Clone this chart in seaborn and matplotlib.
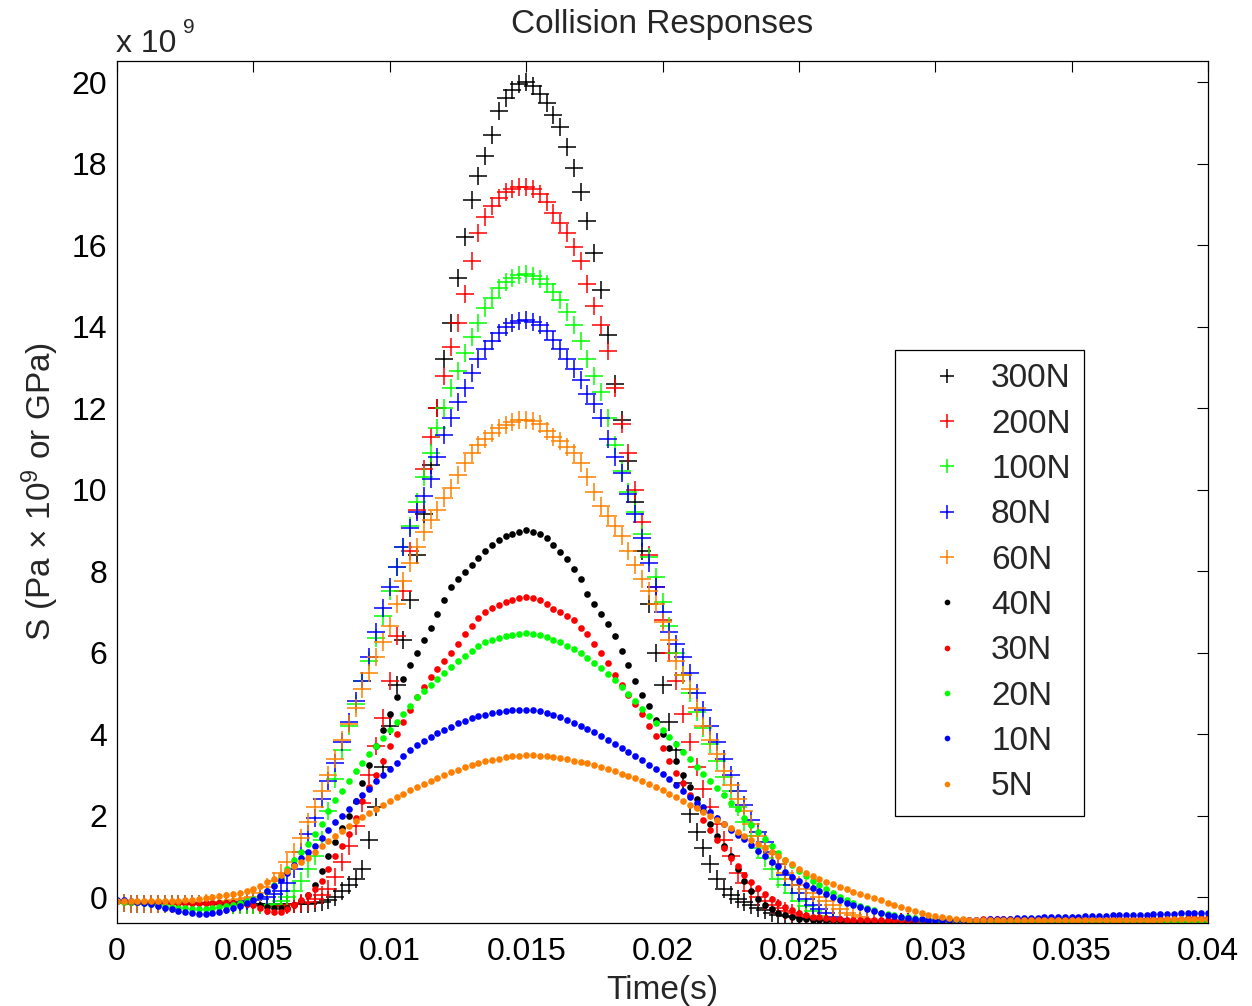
import numpy as np
import pandas as pd
import matplotlib
matplotlib.use("Agg")
import matplotlib.pyplot as plt
import seaborn as sns

# ---------------- data ----------------
time_s = [
    0.0, 0.00025, 0.0005, 0.00075, 0.001, 0.00125, 0.0015, 0.00175, 0.002, 0.00225,
    0.0025, 0.00275, 0.003, 0.00325, 0.0035, 0.00375, 0.004, 0.00425, 0.0045, 0.00475,
    0.005,
    0.00525, 0.0055, 0.00575, 0.006, 0.00625, 0.0065, 0.00675, 0.007, 0.00725, 0.0075,
    0.00775, 0.008, 0.00825, 0.0085, 0.00875, 0.009, 0.00925, 0.0095, 0.00975, 0.01,
    0.01025, 0.0105, 0.01075, 0.011, 0.01125, 0.0115, 0.01175, 0.012, 0.01225, 0.0125,
    0.01275, 0.013, 0.01325, 0.0135, 0.01375, 0.014, 0.01425, 0.0145, 0.01475, 0.015,
    0.01525, 0.0155, 0.01575, 0.016, 0.01625, 0.0165, 0.01675, 0.017, 0.01725, 0.0175,
    0.01775, 0.018, 0.01825, 0.0185, 0.01875, 0.019, 0.01925, 0.0195, 0.01975, 0.02,
    0.02025, 0.0205, 0.02075, 0.021, 0.02125, 0.0215, 0.02175, 0.022, 0.02225, 0.0225,
    0.02275, 0.023, 0.02325, 0.0235, 0.02375, 0.024, 0.02425, 0.0245, 0.02475, 0.025,
    0.02525, 0.0255, 0.02575, 0.026, 0.02625, 0.0265, 0.02675, 0.027, 0.02725, 0.0275,
    0.02775, 0.028, 0.02825, 0.0285, 0.02875, 0.029, 0.02925, 0.0295, 0.02975, 0.03,
    0.03025, 0.0305, 0.03075, 0.031, 0.03125, 0.0315, 0.03175, 0.032, 0.03225, 0.0325,
    0.03275, 0.033, 0.03325, 0.0335, 0.03375, 0.034, 0.03425, 0.0345, 0.03475, 0.035,
    0.03525, 0.0355, 0.03575, 0.036, 0.03625, 0.0365, 0.03675, 0.037, 0.03725, 0.0375,
    0.03775, 0.038, 0.03825, 0.0385, 0.03875, 0.039, 0.03925, 0.0395, 0.03975, 0.04,
]

s_300N = [
    -0.15, -0.15, -0.16, -0.16, -0.17, -0.17, -0.17, -0.17, -0.18, -0.18,
    -0.18, -0.18, -0.18, -0.18, -0.18, -0.18, -0.18, -0.18, -0.18, -0.18,
    -0.18,
    -0.18, -0.18, -0.18, -0.18, -0.18, -0.17, -0.17, -0.16, -0.15, -0.12,
    -0.08, 0.0, 0.15, 0.3, 0.45, 0.7, 1.4, 2.2, 3.2, 4.2,
    5.2, 6.3, 7.3, 8.4, 9.4, 10.6, 12.0, 13.2, 14.1, 15.2,
    16.2, 17.1, 17.7, 18.2, 18.7, 19.3, 19.6, 19.8, 19.95, 20.0,
    19.9, 19.7, 19.5, 19.2, 18.9, 18.4, 17.9, 17.3, 16.6, 15.8,
    14.9, 13.8, 12.6, 11.7, 10.7, 9.7, 8.5, 7.2, 6.0, 5.2,
    4.3, 3.6, 2.8, 2.05, 1.6, 1.2, 0.8, 0.45, 0.2, 0.05,
    -0.05, -0.12, -0.2, -0.27, -0.33, -0.38, -0.43, -0.47, -0.5, -0.52,
    -0.53, -0.55, -0.56, -0.57, -0.58, -0.58, -0.59, -0.6, -0.6, -0.6,
    -0.6, -0.61, -0.61, -0.62, -0.62, -0.62, -0.65, -0.7, -0.8, -0.9,
    -1.0, -1.0, -1.0, -1.0, -1.0, -1.0, -1.0, -1.0, -1.0, -1.0,
    -1.0, -1.0, -1.0, -1.0, -1.0, -1.0, -1.0, -1.0, -1.0, -1.0,
    -1.0, -1.0, -1.0, -1.0, -1.0, -1.0, -1.0, -1.0, -1.0, -1.0,
    -1.0, -1.0, -1.0, -1.0, -1.0, -1.0, -1.0, -1.0, -1.0, -1.0,
]
s_200N = [
    -0.15, -0.15, -0.16, -0.16, -0.17, -0.17, -0.17, -0.17, -0.18, -0.18,
    -0.18, -0.18, -0.18, -0.18, -0.18, -0.18, -0.19, -0.19, -0.19, -0.19,
    -0.2,
    -0.2, -0.22, -0.22, -0.22, -0.2, -0.18, -0.15, -0.12, -0.05, 0.05,
    0.2, 0.5, 0.85, 1.25, 1.75, 2.3, 3.0, 3.7, 4.4, 5.3,
    6.4, 7.5, 8.5, 9.5, 10.5, 11.3, 12.0, 12.8, 13.5, 14.1,
    14.8, 15.6, 16.3, 16.7, 16.95, 17.15, 17.3, 17.38, 17.42, 17.43,
    17.38, 17.25, 17.05, 16.8, 16.55, 16.3, 15.95, 15.6, 15.05, 14.5,
    14.05, 13.4, 12.5, 11.6, 10.9, 10.0, 9.2, 8.4, 7.6, 6.8,
    6.0, 5.3, 4.5, 3.8, 3.2, 2.65, 2.2, 1.8, 1.4, 1.0,
    0.6, 0.35, 0.15, 0.0, -0.1, -0.2, -0.28, -0.35, -0.4, -0.45,
    -0.48, -0.5, -0.53, -0.55, -0.57, -0.58, -0.59, -0.6, -0.6, -0.6,
    -0.6, -0.6, -0.61, -0.62, -0.62, -0.62, -0.65, -0.7, -0.8, -0.9,
    -1.0, -1.0, -1.0, -1.0, -1.0, -1.0, -1.0, -1.0, -1.0, -1.0,
    -1.0, -1.0, -1.0, -1.0, -1.0, -1.0, -1.0, -1.0, -1.0, -1.0,
    -1.0, -1.0, -1.0, -1.0, -1.0, -1.0, -1.0, -1.0, -1.0, -1.0,
    -1.0, -1.0, -1.0, -1.0, -1.0, -1.0, -1.0, -1.0, -1.0, -1.0,
]
s_100N = [
    -0.15, -0.15, -0.16, -0.16, -0.17, -0.17, -0.17, -0.17, -0.18, -0.18,
    -0.18, -0.18, -0.18, -0.18, -0.18, -0.18, -0.18, -0.19, -0.19, -0.19,
    -0.19,
    -0.2, -0.2, -0.18, -0.1, 0.0, 0.15, 0.4, 0.7, 1.0, 1.4,
    2.1, 2.9, 3.6, 4.2, 4.75, 5.3, 5.8, 6.35, 6.9, 7.5,
    8.1, 8.6, 9.1, 9.7, 10.3, 10.9, 11.5, 12.0, 12.5, 12.9,
    13.35, 13.75, 14.1, 14.45, 14.7, 14.95, 15.1, 15.2, 15.26, 15.28,
    15.25, 15.18, 15.05, 14.85, 14.65, 14.35, 14.05, 13.65, 13.2, 12.8,
    12.4, 11.75, 11.1, 10.45, 9.95, 9.45, 8.9, 8.35, 7.85, 7.25,
    6.65, 6.0, 5.45, 5.0, 4.55, 4.15, 3.75, 3.35, 2.95, 2.6,
    2.2, 1.85, 1.5, 1.2, 0.95, 0.7, 0.45, 0.3, 0.1, -0.1,
    -0.22, -0.35, -0.46, -0.55, -0.58, -0.6, -0.61, -0.62, -0.63, -0.65,
    -0.67, -0.7, -0.75, -0.8, -0.85, -0.9, -0.95, -1.0, -1.0, -1.0,
    -1.0, -1.0, -1.0, -1.0, -1.0, -1.0, -1.0, -1.0, -1.0, -1.0,
    -1.0, -1.0, -1.0, -1.0, -1.0, -1.0, -1.0, -1.0, -1.0, -1.0,
    -1.0, -1.0, -1.0, -1.0, -1.0, -1.0, -1.0, -1.0, -1.0, -1.0,
    -1.0, -1.0, -1.0, -1.0, -1.0, -1.0, -1.0, -1.0, -1.0, -1.0,
]
s_80N = [
    -0.15, -0.15, -0.16, -0.16, -0.17, -0.17, -0.17, -0.17, -0.18, -0.18,
    -0.18, -0.18, -0.18, -0.18, -0.17, -0.16, -0.15, -0.14, -0.12, -0.1,
    -0.08,
    -0.04, 0.0, 0.07, 0.15, 0.35, 0.7, 1.1, 1.55, 1.95, 2.4,
    2.85, 3.3, 3.8, 4.3, 4.8, 5.3, 5.9, 6.5, 7.1, 7.6,
    8.1, 8.6, 9.05, 9.45, 9.85, 10.25, 10.8, 11.35, 11.75, 12.15,
    12.5, 12.85, 13.2, 13.45, 13.65, 13.85, 13.98, 14.08, 14.14, 14.16,
    14.12, 14.05, 13.9, 13.68, 13.45, 13.2, 12.95, 12.7, 12.35, 12.1,
    11.75, 11.25, 10.8, 10.4, 9.9, 9.4, 8.8, 8.2, 7.6, 7.0,
    6.5, 6.2, 5.9, 5.5, 5.0, 4.6, 4.2, 3.8, 3.4, 3.0,
    2.6, 2.25, 1.9, 1.6, 1.35, 1.1, 0.8, 0.55, 0.3, 0.1,
    -0.05, -0.2, -0.3, -0.4, -0.48, -0.55, -0.58, -0.6, -0.61, -0.62,
    -0.65, -0.7, -0.75, -0.8, -0.85, -0.9, -0.95, -1.0, -1.0, -1.0,
    -1.0, -1.0, -1.0, -1.0, -1.0, -1.0, -1.0, -1.0, -1.0, -1.0,
    -1.0, -1.0, -1.0, -1.0, -1.0, -1.0, -1.0, -1.0, -1.0, -1.0,
    -1.0, -1.0, -1.0, -1.0, -1.0, -1.0, -1.0, -1.0, -1.0, -1.0,
    -1.0, -1.0, -1.0, -1.0, -1.0, -1.0, -1.0, -1.0, -1.0, -1.0,
]
s_60N = [
    -0.15, -0.15, -0.16, -0.16, -0.17, -0.17, -0.17, -0.17, -0.17, -0.17,
    -0.17, -0.17, -0.16, -0.15, -0.14, -0.12, -0.1, -0.08, -0.05, -0.03,
    0.0,
    0.1, 0.25, 0.4, 0.6, 0.85, 1.1, 1.45, 1.85, 2.2, 2.6,
    3.0, 3.4, 3.85, 4.25, 4.65, 5.1, 5.5, 5.9, 6.25, 6.65,
    7.2, 7.75, 8.2, 8.6, 8.95, 9.25, 9.5, 9.8, 10.05, 10.35,
    10.65, 10.9, 11.1, 11.25, 11.38, 11.5, 11.58, 11.65, 11.7, 11.72,
    11.68, 11.6, 11.45, 11.3, 11.2, 11.05, 10.9, 10.65, 10.3, 9.95,
    9.6, 9.35, 9.1, 8.85, 8.5, 8.15, 7.8, 7.5, 7.2, 6.75,
    6.3, 5.8, 5.45, 5.1, 4.65, 4.2, 3.85, 3.5, 3.1, 2.75,
    2.4, 2.1, 1.8, 1.5, 1.25, 1.05, 0.8, 0.6, 0.45, 0.3,
    0.2, 0.1, 0.0, -0.1, -0.2, -0.3, -0.38, -0.45, -0.5, -0.55,
    -0.58, -0.6, -0.61, -0.62, -0.66, -0.7, -0.75, -0.8, -0.85, -0.9,
    -1.0, -1.0, -1.0, -1.0, -1.0, -1.0, -1.0, -1.0, -1.0, -1.0,
    -1.0, -1.0, -1.0, -1.0, -1.0, -1.0, -1.0, -1.0, -1.0, -1.0,
    -1.0, -1.0, -1.0, -1.0, -1.0, -1.0, -1.0, -1.0, -1.0, -1.0,
    -1.0, -1.0, -1.0, -1.0, -1.0, -1.0, -1.0, -1.0, -1.0, -1.0,
]
s_40N = [
    -0.1, -0.1, -0.11, -0.11, -0.12, -0.12, -0.13, -0.13, -0.13, -0.13,
    -0.14, -0.14, -0.14, -0.14, -0.14, -0.14, -0.15, -0.15, -0.15, -0.16,
    -0.17,
    -0.2, -0.25, -0.27, -0.28, -0.27, -0.2, -0.1, 0.05, 0.3, 0.65,
    1.0, 1.35, 1.7, 2.0, 2.35, 2.8, 3.25, 3.7, 4.1, 4.5,
    4.9, 5.35, 5.7, 6.0, 6.3, 6.6, 6.95, 7.3, 7.6, 7.8,
    7.98, 8.15, 8.33, 8.5, 8.65, 8.77, 8.86, 8.92, 8.97, 9.0,
    8.97, 8.9, 8.8, 8.65, 8.48, 8.3, 8.05, 7.8, 7.45, 7.2,
    6.95, 6.7, 6.4, 6.05, 5.7, 5.3, 4.95, 4.7, 4.35, 4.0,
    3.65, 3.35, 3.0, 2.7, 2.4, 2.1, 1.8, 1.5, 1.25, 1.0,
    0.7, 0.4, 0.15, -0.05, -0.2, -0.3, -0.38, -0.45, -0.5, -0.53,
    -0.55, -0.56, -0.57, -0.58, -0.58, -0.58, -0.58, -0.59, -0.59, -0.59,
    -0.59, -0.6, -0.6, -0.6, -0.6, -0.6, -0.6, -0.6, -0.6, -0.6,
    -0.6, -0.6, -0.61, -0.61, -0.61, -0.61, -0.61, -0.61, -0.61, -0.61,
    -0.61, -0.61, -0.61, -0.61, -0.61, -0.61, -0.62, -0.62, -0.62, -0.62,
    -0.62, -0.62, -0.62, -0.62, -0.62, -0.62, -0.62, -0.62, -0.62, -0.62,
    -0.62, -0.62, -0.62, -0.62, -0.62, -0.62, -0.62, -0.62, -0.62, -0.62,
]
s_30N = [
    -0.1, -0.11, -0.12, -0.12, -0.13, -0.13, -0.13, -0.13, -0.14, -0.14,
    -0.15, -0.15, -0.15, -0.15, -0.15, -0.15, -0.15, -0.15, -0.15, -0.17,
    -0.2,
    -0.28, -0.34, -0.37, -0.36, -0.3, -0.2, -0.08, 0.05, 0.2, 0.4,
    0.7, 1.0, 1.25, 1.55, 1.95, 2.35, 2.7, 3.0, 3.35, 3.7,
    4.0, 4.3, 4.6, 4.9, 5.15, 5.4, 5.6, 5.8, 6.0, 6.2,
    6.45, 6.65, 6.85, 7.0, 7.1, 7.18, 7.25, 7.3, 7.35, 7.37,
    7.35, 7.3, 7.2, 7.08, 7.0, 6.9, 6.8, 6.6, 6.45, 6.22,
    6.0, 5.75, 5.45, 5.2, 4.95, 4.75, 4.5, 4.2, 3.95, 3.65,
    3.35, 3.05, 2.8, 2.5, 2.2, 1.9, 1.65, 1.4, 1.2, 0.95,
    0.75, 0.55, 0.38, 0.22, 0.08, -0.05, -0.15, -0.25, -0.33, -0.4,
    -0.44, -0.48, -0.5, -0.52, -0.54, -0.55, -0.56, -0.56, -0.57, -0.57,
    -0.57, -0.57, -0.57, -0.57, -0.57, -0.57, -0.57, -0.56, -0.56, -0.56,
    -0.56, -0.56, -0.56, -0.56, -0.56, -0.56, -0.55, -0.55, -0.55, -0.55,
    -0.55, -0.55, -0.55, -0.55, -0.55, -0.55, -0.55, -0.54, -0.54, -0.54,
    -0.54, -0.54, -0.54, -0.54, -0.54, -0.54, -0.54, -0.54, -0.53, -0.53,
    -0.53, -0.53, -0.53, -0.53, -0.53, -0.53, -0.52, -0.52, -0.52, -0.52,
]
s_20N = [
    -0.1, -0.11, -0.12, -0.13, -0.15, -0.17, -0.2, -0.22, -0.25, -0.27,
    -0.28, -0.29, -0.3, -0.29, -0.28, -0.25, -0.22, -0.19, -0.15, -0.1,
    -0.05,
    0.02, 0.15, 0.3, 0.5, 0.7, 0.9, 1.1, 1.3, 1.55, 1.8,
    2.1, 2.38, 2.6, 2.85, 3.1, 3.3, 3.5, 3.7, 3.9, 4.1,
    4.3, 4.5, 4.7, 4.9, 5.05, 5.2, 5.35, 5.5, 5.65, 5.8,
    5.92, 6.05, 6.15, 6.25, 6.32, 6.37, 6.41, 6.44, 6.46, 6.47,
    6.46, 6.43, 6.38, 6.32, 6.25, 6.17, 6.08, 5.98, 5.87, 5.75,
    5.62, 5.48, 5.32, 5.15, 4.98, 4.8, 4.62, 4.45, 4.28, 4.1,
    3.92, 3.75, 3.55, 3.38, 3.2, 3.02, 2.85, 2.68, 2.5, 2.32,
    2.15, 1.95, 1.78, 1.6, 1.42, 1.25, 1.08, 0.92, 0.78, 0.65,
    0.52, 0.4, 0.3, 0.2, 0.1, 0.0, -0.08, -0.15, -0.22, -0.28,
    -0.33, -0.38, -0.42, -0.45, -0.48, -0.5, -0.52, -0.54, -0.55, -0.56,
    -0.57, -0.57, -0.58, -0.58, -0.58, -0.58, -0.58, -0.58, -0.58, -0.58,
    -0.59, -0.59, -0.59, -0.59, -0.59, -0.59, -0.59, -0.59, -0.59, -0.59,
    -0.59, -0.59, -0.59, -0.59, -0.59, -0.59, -0.59, -0.59, -0.58, -0.58,
    -0.58, -0.58, -0.58, -0.58, -0.58, -0.58, -0.58, -0.58, -0.58, -0.58,
]
s_10N = [
    -0.07, -0.08, -0.1, -0.12, -0.15, -0.18, -0.22, -0.26, -0.3, -0.34,
    -0.37, -0.4, -0.42, -0.42, -0.4, -0.37, -0.33, -0.28, -0.22, -0.15,
    -0.08,
    0.02, 0.15, 0.28, 0.42, 0.6, 0.78, 0.95, 1.1, 1.25, 1.45,
    1.65, 1.85, 2.0, 2.15, 2.35, 2.5, 2.65, 2.85, 3.0, 3.15,
    3.3, 3.45, 3.6, 3.72, 3.82, 3.92, 4.02, 4.1, 4.18, 4.26,
    4.33, 4.39, 4.44, 4.48, 4.52, 4.55, 4.57, 4.58, 4.59, 4.59,
    4.58, 4.56, 4.52, 4.47, 4.41, 4.34, 4.27, 4.2, 4.12, 4.04,
    3.95, 3.86, 3.76, 3.66, 3.56, 3.46, 3.36, 3.25, 3.14, 3.03,
    2.9, 2.75, 2.6, 2.45, 2.32, 2.2, 2.08, 1.95, 1.8, 1.65,
    1.53, 1.42, 1.28, 1.14, 1.0, 0.87, 0.75, 0.62, 0.5, 0.4,
    0.3, 0.22, 0.15, 0.08, 0.0, -0.07, -0.14, -0.2, -0.25, -0.3,
    -0.35, -0.4, -0.44, -0.47, -0.5, -0.52, -0.54, -0.55, -0.56, -0.56,
    -0.57, -0.57, -0.57, -0.57, -0.57, -0.56, -0.56, -0.55, -0.54, -0.53,
    -0.53, -0.52, -0.52, -0.51, -0.51, -0.5, -0.5, -0.49, -0.49, -0.48,
    -0.48, -0.47, -0.47, -0.46, -0.46, -0.45, -0.45, -0.44, -0.44, -0.43,
    -0.43, -0.42, -0.42, -0.41, -0.41, -0.4, -0.4, -0.39, -0.39, -0.38,
]
s_5N = [
    -0.1, -0.1, -0.1, -0.1, -0.1, -0.1, -0.1, -0.1, -0.1, -0.09,
    -0.08, -0.07, -0.05, -0.03, 0.0, 0.02, 0.05, 0.07, 0.1, 0.15,
    0.2,
    0.28, 0.36, 0.45, 0.55, 0.65, 0.75, 0.85, 0.95, 1.1, 1.25,
    1.38, 1.5, 1.62, 1.74, 1.86, 1.97, 2.07, 2.17, 2.27, 2.36,
    2.45, 2.54, 2.62, 2.7, 2.78, 2.86, 2.93, 3.0, 3.06, 3.12,
    3.18, 3.24, 3.29, 3.33, 3.37, 3.4, 3.43, 3.45, 3.47, 3.48,
    3.48, 3.47, 3.46, 3.44, 3.41, 3.38, 3.35, 3.32, 3.28, 3.24,
    3.2, 3.15, 3.09, 3.03, 2.97, 2.91, 2.84, 2.77, 2.7, 2.62,
    2.54, 2.45, 2.36, 2.27, 2.18, 2.09, 2.0, 1.9, 1.8, 1.7,
    1.6, 1.5, 1.4, 1.3, 1.2, 1.1, 1.0, 0.9, 0.8, 0.7,
    0.6, 0.52, 0.45, 0.38, 0.31, 0.25, 0.19, 0.13, 0.07, 0.02,
    -0.03, -0.08, -0.14, -0.2, -0.25, -0.3, -0.35, -0.4, -0.44, -0.47,
    -0.5, -0.52, -0.54, -0.55, -0.56, -0.56, -0.57, -0.57, -0.57, -0.57,
    -0.57, -0.57, -0.57, -0.57, -0.57, -0.57, -0.57, -0.56, -0.56, -0.56,
    -0.56, -0.56, -0.56, -0.56, -0.56, -0.56, -0.56, -0.56, -0.56, -0.56,
    -0.56, -0.56, -0.56, -0.55, -0.55, -0.55, -0.55, -0.55, -0.55, -0.55,
]

series_labels = ["300N", "200N", "100N", "80N", "60N", "40N", "30N", "20N", "10N", "5N"]
series_values = [s_300N, s_200N, s_100N, s_80N, s_60N, s_40N, s_30N, s_20N, s_10N, s_5N]
series_colors = ["#000000", "#ff0000", "#00ff00", "#0000ff", "#ff8000",
                 "#000000", "#ff0000", "#00ff00", "#0000ff", "#ff8000"]
series_markers = ["+", "+", "+", "+", "+", "o", "o", "o", "o", "o"]

x_ticks = [0, 0.005, 0.01, 0.015, 0.02, 0.025, 0.03, 0.035, 0.04]
x_tick_labels = ["0", "0.005", "0.01", "0.015", "0.02", "0.025", "0.03", "0.035", "0.04"]
y_ticks = [0, 2, 4, 6, 8, 10, 12, 14, 16, 18, 20]

for v in series_values:
    assert len(v) == len(time_s), (len(v), len(time_s))

# ---------------- style ----------------
sns.set_style("white")
plt.rcParams["font.family"] = ["Liberation Sans", "DejaVu Sans"]
plt.rcParams["mathtext.fontset"] = "custom"
plt.rcParams["mathtext.rm"] = "Liberation Sans"
plt.rcParams["mathtext.it"] = "Liberation Sans:italic"

W, H = 1252, 1006
fig = plt.figure(figsize=(W / 100, H / 100), dpi=100)
fig.patch.set_facecolor("white")
ax = fig.add_axes([117 / W, 1 - 922.7 / H, (1208 - 117) / W, (922.7 - 61) / H])

for lab, vals, col, mk in zip(series_labels, series_values, series_colors, series_markers):
    df = pd.DataFrame({"Time": time_s, "S": vals})
    if mk == "+":
        sns.lineplot(data=df, x="Time", y="S", ax=ax, estimator=None, sort=False,
                     linestyle="", marker="+", markersize=12.5, markeredgewidth=1.1,
                     markeredgecolor=col, color=col, label=lab)
    else:
        sns.lineplot(data=df, x="Time", y="S", ax=ax, estimator=None, sort=False,
                     linestyle="", marker="o", markersize=4.8, markeredgewidth=0,
                     markeredgecolor=col, markerfacecolor=col, color=col, label=lab)

ax.set_xlim(0, 0.04)
ax.set_ylim(-0.63, 20.52)
ax.set_xticks(x_ticks)
ax.set_xticklabels(x_tick_labels)
ax.set_yticks(y_ticks)
ax.set_yticklabels([str(t) for t in y_ticks])
ax.tick_params(direction="in", top=True, right=True, length=8, width=0.8,
               labelsize=23, colors="black")
ax.tick_params(axis="x", pad=10)
ax.tick_params(axis="y", pad=7)
for sp in ax.spines.values():
    sp.set_visible(True)
    sp.set_color("black")
    sp.set_linewidth(0.9)

ax.set_xlabel("Time(s)", fontsize=24, labelpad=6)
ax.set_ylabel("S (Pa \u00d7 10$^{9}$ or GPa)", fontsize=24, labelpad=8)
ax.set_title("Collision Responses", fontsize=24, pad=20)

fig.text(116 / W, 1 - 52 / H, "x 10", fontsize=23, ha="left", va="baseline")
fig.text(183 / W, 1 - 33 / H, "9", fontsize=15, ha="left", va="baseline")

leg = ax.legend(loc="upper left", bbox_to_anchor=(895 / W, 1 - 350 / H),
                bbox_transform=fig.transFigure, fontsize=24, frameon=True,
                fancybox=False, framealpha=1, edgecolor="black", borderaxespad=0,
                borderpad=0.4, handlelength=2.32, handletextpad=0.16,
                labelspacing=0.43, markerscale=0.85, numpoints=1)
leg.get_frame().set_linewidth(0.9)

fig.savefig("out.png", dpi=100, facecolor="white")
